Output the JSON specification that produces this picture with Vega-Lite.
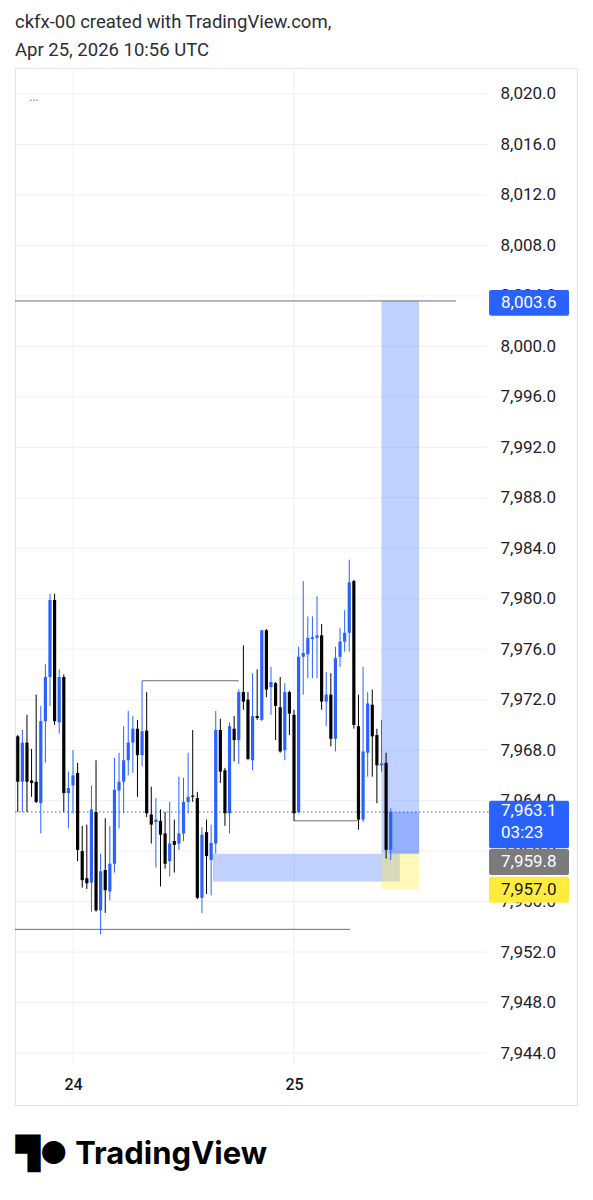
{
"$schema": "https://vega.github.io/schema/vega-lite/v6.json",
"width": 562, "height": 1037,
"autosize": {"type": "none"},
"padding": {"left": 15, "top": 68, "right": 16, "bottom": 95},
"background": "white",
"config": {"view": {"stroke": "#e0e3eb", "strokeWidth": 1}, "font": "Roboto"},
"title": {"text": ["ckfx-00 created with TradingView.com,", "Apr 25, 2026 10:56 UTC"], "anchor": "start", "frame": "group", "fontSize": 18.5, "font": "Roboto", "fontWeight": "normal", "color": "#2a2e39", "lineHeight": 28, "offset": 8},
"layer": [
{
 "data": {"values": [{"p":7944},{"p":7948},{"p":7952},{"p":7956},{"p":7960},{"p":7964},{"p":7968},{"p":7972},{"p":7976},{"p":7980},{"p":7984},{"p":7988},{"p":7992},{"p":7996},{"p":8000},{"p":8004},{"p":8008},{"p":8012},{"p":8016},{"p":8020}]},
 "mark": {"type": "rule", "color": "#eef0f3", "strokeWidth": 1},
 "encoding": {
  "y": {"field": "p", "type": "quantitative", "scale": {"domain": [7939.88, 8022.06], "nice": false, "zero": false},
   "axis": {"orient": "right", "offset": -90, "values": [7944,7948,7952,7956,7960,7964,7968,7972,7976,7980,7984,7988,7992,7996,8000,8004,8008,8012,8016,8020], "format": ",.1f", "grid": false, "domain": false, "ticks": false, "labelPadding": 13, "labelFontSize": 17, "labelColor": "#1e222d", "labelFont": "Roboto", "labelAlign": "left", "labelBaseline": "middle", "title": null}},
  "x": {"datum": {"year": 2026, "month": 4, "date": 23, "hours": 17, "minutes": 42, "utc": true}, "type": "temporal", "scale": {"type": "utc", "domain": [{"year": 2026, "month": 4, "date": 23, "hours": 17, "minutes": 42, "utc": true}, {"year": 2026, "month": 4, "date": 26, "hours": 6, "minutes": 44, "utc": true}]},
   "axis": {"orient": "bottom", "offset": -40, "values": [{"year": 2026, "month": 4, "date": 24, "utc": true}, {"year": 2026, "month": 4, "date": 25, "utc": true}], "format": "%d", "grid": false, "domain": false, "ticks": false, "labelPadding": 11, "labelFontSize": 16, "labelFontWeight": 500, "labelColor": "#131722", "labelFont": "Roboto",
    "title": "▜● TradingView", "titleAnchor": "start", "titlePadding": 47, "titleFontSize": 31, "titleFontWeight": "bold", "titleFont": "Inter", "titleColor": "#000000"}},
  "x2": {"datum": {"year": 2026, "month": 4, "date": 25, "hours": 20, "minutes": 58, "utc": true}}
 }
},
{
 "data": {"values": [{"t": "2026-04-24T00:00Z"}, {"t": "2026-04-25T00:00Z"}]},
 "mark": {"type": "rule", "color": "#eef0f3", "strokeWidth": 1},
 "encoding": {
  "x": {"field": "t", "type": "temporal"},
  "y": {"datum": 8022.06, "type": "quantitative", "title": null},
  "y2": {"datum": 7943.1}
 }
},
{
 "data": {"values": [
  {"t1":"2026-04-24T15:12Z","t2":"2026-04-25T11:30Z","p1":7957.6,"p2":7959.8,"kind":"zone"},
  {"t1":"2026-04-25T09:30Z","t2":"2026-04-25T13:35Z","p1":7959.8,"p2":8003.6,"kind":"profit"},
  {"t1":"2026-04-25T09:30Z","t2":"2026-04-25T13:35Z","p1":7957.0,"p2":7959.8,"kind":"stop"},
  {"t1":"2026-04-25T10:18Z","t2":"2026-04-25T13:35Z","p1":7959.8,"p2":7963.1,"kind":"pnl"}
 ]},
 "mark": {"type": "rect"},
 "encoding": {
  "x": {"field": "t1", "type": "temporal"},
  "x2": {"field": "t2"},
  "y": {"field": "p1", "type": "quantitative", "title": null},
  "y2": {"field": "p2"},
  "fill": {"condition": {"test": "datum.kind == 'stop'", "value": "#ffeb3b"}, "value": "#2962ff"},
  "opacity": {"condition": {"test": "datum.kind == 'stop'", "value": 0.35}, "value": 0.29}
 }
},
{
 "data": {"values": [
  {"t1":"2026-04-23T17:42Z","t2":"2026-04-25T17:35Z","p":8003.6},
  {"t1":"2026-04-23T17:42Z","t2":"2026-04-25T06:05Z","p":7953.8},
  {"t1":"2026-04-24T07:30Z","t2":"2026-04-24T18:00Z","p":7973.5},
  {"t1":"2026-04-25T00:00Z","t2":"2026-04-25T06:54Z","p":7962.4}
 ]},
 "mark": {"type": "rule", "color": "#6a6d78", "strokeWidth": 1},
 "encoding": {
  "x": {"field": "t1", "type": "temporal"},
  "x2": {"field": "t2"},
  "y": {"field": "p", "type": "quantitative", "title": null}
 }
},
{
 "data": {"values": [{"p": 7963.1}]},
 "mark": {"type": "rule", "color": "#2962ff", "strokeWidth": 1, "strokeDash": [1.5, 2.5]},
 "encoding": {
  "y": {"field": "p", "type": "quantitative", "title": null},
  "x": {"datum": {"year": 2026, "month": 4, "date": 23, "hours": 17, "minutes": 42, "utc": true}, "type": "temporal"},
  "x2": {"datum": {"year": 2026, "month": 4, "date": 25, "hours": 21, "minutes": 11, "utc": true}}
 }
},
{
 "data": {"name": "candles"},
 "mark": {"type": "rule", "strokeWidth": 1},
 "encoding": {
  "x": {"field": "t", "type": "temporal"},
  "y": {"field": "l", "type": "quantitative", "title": null},
  "y2": {"field": "h"},
  "color": {"condition": {"test": "datum.c >= datum.o", "value": "#2962ff"}, "value": "#000000"}
 }
},
{
 "data": {"name": "candles"},
 "mark": {"type": "rule", "strokeWidth": 3.2},
 "encoding": {
  "x": {"field": "t", "type": "temporal"},
  "y": {"field": "o", "type": "quantitative", "title": null},
  "y2": {"field": "c"},
  "color": {"condition": {"test": "datum.c >= datum.o", "value": "#2962ff"}, "value": "#000000"}
 }
},
{
 "data": {"values": [
  {"p1":8004.47,"p2":8002.43,"kind":"target"},
  {"p1":7964.0,"p2":7960.23,"kind":"last"},
  {"p1":7960.17,"p2":7958.11,"kind":"entry"},
  {"p1":7957.96,"p2":7955.9,"kind":"stop"}
 ]},
 "mark": {"type": "rect", "cornerRadius": 2},
 "encoding": {
  "x": {"datum": {"year": 2026, "month": 4, "date": 25, "hours": 21, "minutes": 11, "utc": true}, "type": "temporal"},
  "x2": {"datum": {"year": 2026, "month": 4, "date": 26, "hours": 5, "minutes": 52, "utc": true}},
  "y": {"field": "p1", "type": "quantitative", "title": null},
  "y2": {"field": "p2"},
  "fill": {"condition": [{"test": "datum.kind == 'entry'", "value": "#7b7b7b"}, {"test": "datum.kind == 'stop'", "value": "#ffeb3b"}], "value": "#2962ff"}
 }
},
{
 "data": {"values": [
  {"p":8003.46,"label":"8,003.6","kind":"target"},
  {"p":7963.14,"label":"7,963.1","kind":"last"},
  {"p":7961.45,"label":"03:23","kind":"last"},
  {"p":7959.14,"label":"7,959.8","kind":"entry"},
  {"p":7956.93,"label":"7,957.0","kind":"stop"}
 ]},
 "mark": {"type": "text", "align": "left", "baseline": "middle", "fontSize": 17, "font": "Roboto"},
 "encoding": {
  "x": {"datum": {"year": 2026, "month": 4, "date": 25, "hours": 22, "minutes": 29, "utc": true}, "type": "temporal"},
  "y": {"field": "p", "type": "quantitative", "title": null},
  "text": {"field": "label"},
  "color": {"condition": {"test": "datum.kind == 'stop'", "value": "#131722"}, "value": "#ffffff"}
 }
},
{
 "data": {"values": [{"t": "2026-04-23T19:46Z", "p": 8019.76, "label": "..."}]},
 "mark": {"type": "text", "align": "center", "baseline": "middle", "fontSize": 12, "color": "#787b86"},
 "encoding": {
  "x": {"field": "t", "type": "temporal"},
  "y": {"field": "p", "type": "quantitative", "title": null},
  "text": {"field": "label"}
 }
}
],
"datasets": {
 "candles": [
  {"t":"2026-04-23T18:00Z","o":7969.1,"h":7969.2,"l":7963.1,"c":7965.5},
  {"t":"2026-04-23T18:30Z","o":7965.5,"h":7969.6,"l":7963.1,"c":7968.6},
  {"t":"2026-04-23T19:00Z","o":7968.6,"h":7970.8,"l":7963.1,"c":7965.5},
  {"t":"2026-04-23T19:30Z","o":7965.6,"h":7968.1,"l":7964.3,"c":7965.4},
  {"t":"2026-04-23T20:00Z","o":7965.5,"h":7972.4,"l":7963.8,"c":7963.9},
  {"t":"2026-04-23T20:30Z","o":7963.8,"h":7971.5,"l":7961.4,"c":7970.3},
  {"t":"2026-04-23T21:00Z","o":7970.3,"h":7974.8,"l":7967.0,"c":7973.8},
  {"t":"2026-04-23T21:30Z","o":7973.8,"h":7980.4,"l":7971.5,"c":7979.9},
  {"t":"2026-04-23T22:00Z","o":7979.9,"h":7980.4,"l":7970.0,"c":7970.3},
  {"t":"2026-04-23T22:30Z","o":7970.2,"h":7974.4,"l":7969.3,"c":7973.8},
  {"t":"2026-04-23T23:00Z","o":7973.8,"h":7974.0,"l":7963.1,"c":7964.6},
  {"t":"2026-04-23T23:30Z","o":7964.6,"h":7966.3,"l":7961.8,"c":7965.0},
  {"t":"2026-04-24T00:00Z","o":7965.2,"h":7968.0,"l":7963.0,"c":7966.0},
  {"t":"2026-04-24T00:30Z","o":7966.2,"h":7967.0,"l":7959.2,"c":7960.1},
  {"t":"2026-04-24T01:00Z","o":7960.0,"h":7962.0,"l":7957.1,"c":7957.7},
  {"t":"2026-04-24T01:30Z","o":7957.85,"h":7962.1,"l":7957.0,"c":7957.45},
  {"t":"2026-04-24T02:00Z","o":7957.5,"h":7965.2,"l":7955.2,"c":7963.3},
  {"t":"2026-04-24T02:30Z","o":7963.1,"h":7967.2,"l":7955.2,"c":7955.3},
  {"t":"2026-04-24T03:00Z","o":7955.3,"h":7959.8,"l":7953.4,"c":7958.4},
  {"t":"2026-04-24T03:30Z","o":7958.5,"h":7962.6,"l":7955.1,"c":7956.9},
  {"t":"2026-04-24T04:00Z","o":7956.8,"h":7962.0,"l":7956.1,"c":7959.0},
  {"t":"2026-04-24T04:30Z","o":7959.0,"h":7967.4,"l":7958.3,"c":7964.85},
  {"t":"2026-04-24T05:00Z","o":7964.8,"h":7967.8,"l":7961.8,"c":7965.5},
  {"t":"2026-04-24T05:30Z","o":7965.5,"h":7969.9,"l":7963.0,"c":7967.2},
  {"t":"2026-04-24T06:00Z","o":7967.2,"h":7971.1,"l":7966.0,"c":7968.6},
  {"t":"2026-04-24T06:30Z","o":7968.6,"h":7970.7,"l":7966.2,"c":7969.7},
  {"t":"2026-04-24T07:00Z","o":7969.7,"h":7970.4,"l":7964.3,"c":7967.6},
  {"t":"2026-04-24T07:30Z","o":7967.6,"h":7973.5,"l":7966.7,"c":7969.5},
  {"t":"2026-04-24T08:00Z","o":7969.55,"h":7972.6,"l":7962.7,"c":7963.0},
  {"t":"2026-04-24T08:30Z","o":7962.9,"h":7965.1,"l":7960.6,"c":7962.1},
  {"t":"2026-04-24T09:00Z","o":7962.3,"h":7964.2,"l":7958.7,"c":7962.5},
  {"t":"2026-04-24T09:30Z","o":7962.4,"h":7963.3,"l":7957.2,"c":7961.3},
  {"t":"2026-04-24T10:00Z","o":7961.4,"h":7963.1,"l":7958.6,"c":7959.0},
  {"t":"2026-04-24T10:30Z","o":7959.2,"h":7963.9,"l":7958.0,"c":7960.6},
  {"t":"2026-04-24T11:00Z","o":7960.8,"h":7962.5,"l":7958.3,"c":7960.5},
  {"t":"2026-04-24T11:30Z","o":7960.6,"h":7965.9,"l":7960.1,"c":7961.4},
  {"t":"2026-04-24T12:00Z","o":7961.4,"h":7965.8,"l":7960.8,"c":7963.9},
  {"t":"2026-04-24T12:30Z","o":7963.9,"h":7967.8,"l":7963.0,"c":7964.3},
  {"t":"2026-04-24T13:00Z","o":7964.4,"h":7969.6,"l":7963.9,"c":7964.3},
  {"t":"2026-04-24T13:30Z","o":7964.2,"h":7964.7,"l":7956.2,"c":7956.3},
  {"t":"2026-04-24T14:00Z","o":7956.3,"h":7961.9,"l":7955.1,"c":7961.3},
  {"t":"2026-04-24T14:30Z","o":7961.5,"h":7962.5,"l":7956.6,"c":7959.6},
  {"t":"2026-04-24T15:00Z","o":7959.3,"h":7962.1,"l":7956.5,"c":7960.65},
  {"t":"2026-04-24T15:30Z","o":7960.6,"h":7971.1,"l":7959.8,"c":7969.6},
  {"t":"2026-04-24T16:00Z","o":7969.6,"h":7970.5,"l":7965.4,"c":7966.3},
  {"t":"2026-04-24T16:30Z","o":7966.4,"h":7966.6,"l":7962.0,"c":7963.0},
  {"t":"2026-04-24T17:00Z","o":7963.0,"h":7970.2,"l":7961.4,"c":7969.9},
  {"t":"2026-04-24T17:30Z","o":7969.7,"h":7970.7,"l":7967.1,"c":7968.8},
  {"t":"2026-04-24T18:00Z","o":7968.8,"h":7972.8,"l":7966.9,"c":7972.6},
  {"t":"2026-04-24T18:30Z","o":7972.6,"h":7976.3,"l":7971.2,"c":7971.85},
  {"t":"2026-04-24T19:00Z","o":7972.0,"h":7972.6,"l":7967.2,"c":7967.3},
  {"t":"2026-04-24T19:30Z","o":7967.2,"h":7974.1,"l":7966.4,"c":7970.7},
  {"t":"2026-04-24T20:00Z","o":7970.7,"h":7974.4,"l":7970.4,"c":7970.55},
  {"t":"2026-04-24T20:30Z","o":7970.4,"h":7977.5,"l":7970.3,"c":7977.5},
  {"t":"2026-04-24T21:00Z","o":7977.5,"h":7977.6,"l":7972.2,"c":7972.8},
  {"t":"2026-04-24T21:30Z","o":7973.0,"h":7974.6,"l":7970.8,"c":7973.4},
  {"t":"2026-04-24T22:00Z","o":7973.3,"h":7973.4,"l":7968.8,"c":7971.5},
  {"t":"2026-04-24T22:30Z","o":7971.4,"h":7973.8,"l":7967.8,"c":7967.9},
  {"t":"2026-04-24T23:00Z","o":7968.0,"h":7973.3,"l":7967.2,"c":7972.6},
  {"t":"2026-04-24T23:30Z","o":7972.6,"h":7972.7,"l":7969.2,"c":7970.9},
  {"t":"2026-04-25T00:00Z","o":7970.8,"h":7971.2,"l":7962.4,"c":7963.0},
  {"t":"2026-04-25T00:30Z","o":7963.1,"h":7976.2,"l":7963.0,"c":7975.4},
  {"t":"2026-04-25T01:00Z","o":7975.4,"h":7981.4,"l":7972.4,"c":7975.7},
  {"t":"2026-04-25T01:30Z","o":7975.6,"h":7978.6,"l":7973.7,"c":7976.9},
  {"t":"2026-04-25T02:00Z","o":7976.8,"h":7978.6,"l":7973.7,"c":7976.95},
  {"t":"2026-04-25T02:30Z","o":7976.9,"h":7980.2,"l":7973.7,"c":7977.1},
  {"t":"2026-04-25T03:00Z","o":7977.1,"h":7978.0,"l":7971.2,"c":7971.85},
  {"t":"2026-04-25T03:30Z","o":7971.85,"h":7974.2,"l":7969.9,"c":7972.4},
  {"t":"2026-04-25T04:00Z","o":7972.4,"h":7974.1,"l":7968.3,"c":7968.9},
  {"t":"2026-04-25T04:30Z","o":7968.9,"h":7976.2,"l":7967.9,"c":7975.3},
  {"t":"2026-04-25T05:00Z","o":7975.4,"h":7977.7,"l":7974.6,"c":7976.6},
  {"t":"2026-04-25T05:30Z","o":7976.6,"h":7979.1,"l":7975.8,"c":7977.3},
  {"t":"2026-04-25T06:00Z","o":7977.3,"h":7983.1,"l":7975.8,"c":7981.3},
  {"t":"2026-04-25T06:30Z","o":7981.4,"h":7981.5,"l":7969.7,"c":7970.0},
  {"t":"2026-04-25T07:00Z","o":7969.9,"h":7972.4,"l":7961.7,"c":7962.5},
  {"t":"2026-04-25T07:30Z","o":7962.5,"h":7974.6,"l":7962.3,"c":7967.9},
  {"t":"2026-04-25T08:00Z","o":7967.8,"h":7972.6,"l":7965.9,"c":7971.7},
  {"t":"2026-04-25T08:30Z","o":7971.6,"h":7972.8,"l":7965.9,"c":7969.1},
  {"t":"2026-04-25T09:00Z","o":7969.2,"h":7969.7,"l":7963.8,"c":7966.8},
  {"t":"2026-04-25T09:30Z","o":7966.8,"h":7970.4,"l":7966.3,"c":7966.95},
  {"t":"2026-04-25T10:00Z","o":7967.0,"h":7967.8,"l":7959.4,"c":7960.1},
  {"t":"2026-04-25T10:30Z","o":7960.1,"h":7963.4,"l":7959.3,"c":7963.1}
 ]
}
}
